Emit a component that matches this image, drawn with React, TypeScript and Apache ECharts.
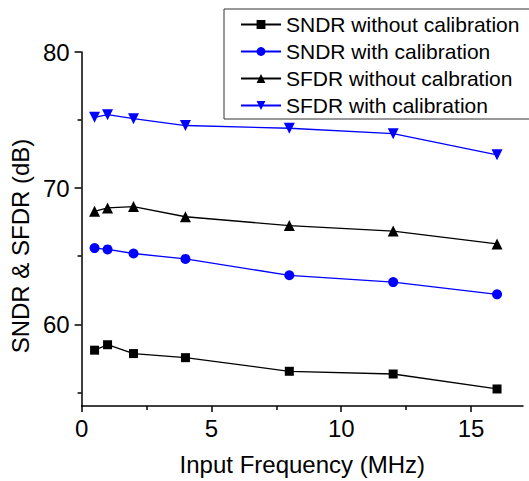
import React, { useEffect, useRef } from "react";
import * as echarts from "echarts";

const freqMHz = [0.5, 1, 2, 4, 8, 12, 16];
const sndrWithout = [58.1, 58.5, 57.85, 57.55, 56.55, 56.35, 55.25];
const sndrWith = [65.6, 65.5, 65.2, 64.8, 63.6, 63.1, 62.2];
const sfdrWithout = [68.3, 68.55, 68.65, 67.9, 67.25, 66.85, 65.9];
const sfdrWith = [75.2, 75.4, 75.1, 74.6, 74.4, 74.0, 72.45];

const seriesNames = [
  "SNDR without calibration",
  "SNDR with calibration",
  "SFDR without calbration",
  "SFDR with calibration",
];

const xMajorTicks = [0, 5, 10, 15];
const xMinorTicks = [2.5, 7.5, 12.5];
const yMajorTicks = [60, 70, 80];
const yMinorTicks = [55, 65, 75];

const pairs = (vals: number[]) => freqMHz.map((f, i) => [f, vals[i]]);

export default function App() {
  const ref = useRef<HTMLDivElement>(null);
  useEffect(() => {
    if (!ref.current) return;
    const chart = echarts.init(ref.current, null, { renderer: "svg" });
    const font = "'Liberation Sans', Arial, Helvetica, sans-serif";
    const axisLine = { show: true, lineStyle: { color: "#000", width: 1.5 } };
    const blue = "#0000ff";
    const mkSeries = (name: string, vals: number[], color: string, symbol: string, size: number, rotate = 0) => ({
      name,
      type: "line",
      data: pairs(vals),
      xAxisIndex: 0,
      yAxisIndex: 0,
      symbol,
      symbolSize: size,
      symbolRotate: rotate,
      showAllSymbol: true,
      lineStyle: { color, width: 1.3 },
      itemStyle: { color, borderWidth: 0 },
      z: 3,
    });
    chart.setOption({
      animation: false,
      textStyle: { fontFamily: font },
      grid: { left: 81, right: 6, top: 52, bottom: 72, containLabel: false },
      legend: {
        orient: "vertical",
        left: 224,
        top: 9,
        padding: [5, 12, 3, 16],
        itemGap: 6,
        itemWidth: 40,
        itemHeight: 11,
        borderColor: "#333",
        borderWidth: 1,
        backgroundColor: "#fff",
        textStyle: { fontSize: 21, color: "#000", fontFamily: font },
        data: seriesNames,
      },
      xAxis: [
        {
          type: "value",
          min: 0,
          max: 17,
          position: "bottom",
          axisLine: { ...axisLine, onZero: false },
          axisTick: { show: true, length: 6, customValues: xMajorTicks, lineStyle: { color: "#000", width: 1.5 } },
          axisLabel: { customValues: xMajorTicks, fontSize: 24, color: "#000", margin: 10, fontFamily: font },
          splitLine: { show: false },
          name: "Input Frequency (MHz)",
          nameLocation: "middle",
          nameGap: 46,
          nameTextStyle: { fontSize: 24, color: "#000", fontFamily: font },
        },
        {
          type: "value",
          min: 0,
          max: 17,
          position: "bottom",
          axisLine: { show: false, onZero: false },
          axisTick: { show: true, length: 4, customValues: xMinorTicks, lineStyle: { color: "#000", width: 1.5 } },
          axisLabel: { show: false },
          splitLine: { show: false },
        },
      ],
      yAxis: [
        {
          type: "value",
          min: 54,
          max: 80,
          position: "left",
          axisLine: { ...axisLine, onZero: false },
          axisTick: { show: true, length: 7, customValues: yMajorTicks, lineStyle: { color: "#000", width: 1.5 } },
          axisLabel: { customValues: yMajorTicks, fontSize: 24, color: "#000", margin: 12, fontFamily: font },
          splitLine: { show: false },
          name: "SNDR & SFDR (dB)",
          nameLocation: "middle",
          nameGap: 42,
          nameTextStyle: { fontSize: 24, color: "#000", fontFamily: font, padding: [0, 34, 0, 0] },
        },
        {
          type: "value",
          min: 54,
          max: 80,
          position: "left",
          axisLine: { show: false, onZero: false },
          axisTick: { show: true, length: 4, customValues: yMinorTicks, lineStyle: { color: "#000", width: 1.5 } },
          axisLabel: { show: false },
          splitLine: { show: false },
        },
      ],
      series: [
        mkSeries(seriesNames[0], sndrWithout, "#000", "rect", 9),
        mkSeries(seriesNames[1], sndrWith, blue, "circle", 10),
        mkSeries(seriesNames[2], sfdrWithout, "#000", "triangle", 11),
        mkSeries(seriesNames[3], sfdrWith, blue, "triangle", 11, 180),
      ],
    });
    return () => chart.dispose();
  }, []);
  return (
    <div
      ref={ref}
      style={{ position: "fixed", left: 0, top: 0, width: 529, height: 481, background: "#fff" }}
    />
  );
}
